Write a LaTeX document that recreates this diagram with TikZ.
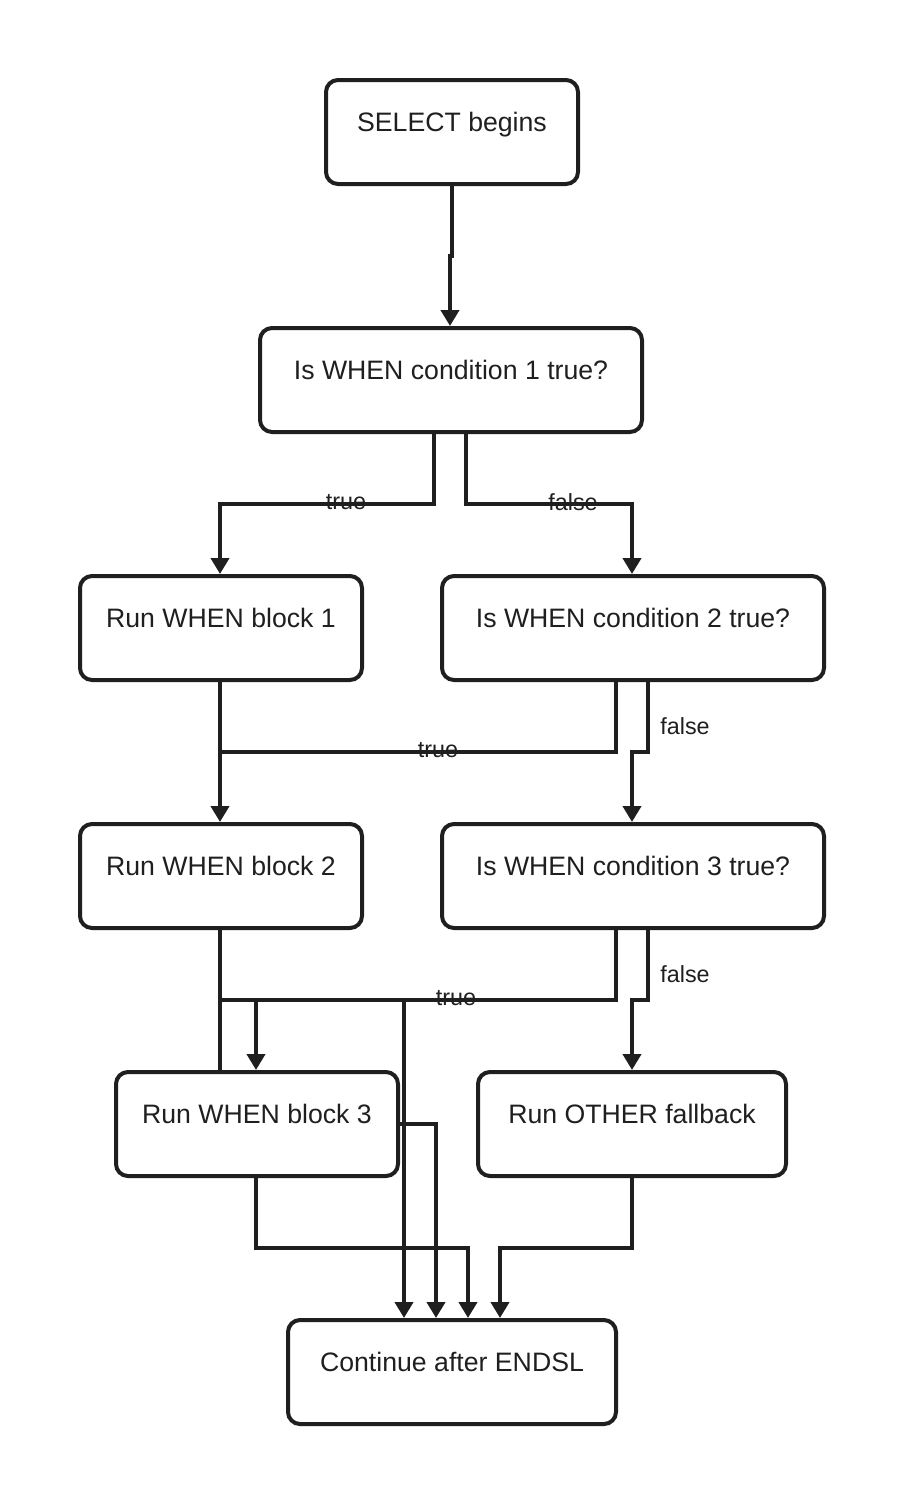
\documentclass[tikz,border=0pt]{standalone}
\usepackage{fontspec}
\setmainfont{Liberation Sans}
\usetikzlibrary{arrows.meta}
\begin{document}
\begin{tikzpicture}[x=0.75pt,y=-0.75pt,
  box/.style={draw=black!88,line width=3pt,rounded corners=9pt,inner sep=0pt,
    font=\fontsize{20}{24}\selectfont,text=black!88},
  ln/.style={draw=black!88,line width=3pt},
  ar/.style={ln,-{Triangle[width=13.5pt,length=12pt]}},
  lbl/.style={font=\fontsize{17.5}{20}\selectfont,text=black!88,inner sep=0pt}]
\useasboundingbox (0,0) rectangle (904,1504);
\newcommand\rt[1]{\raisebox{15pt}{#1}}
\node[box,minimum width=189pt,minimum height=78pt] (s) at (452,132) {\rt{SELECT begins}};
\node[box,minimum width=286.5pt,minimum height=78pt] (c1) at (451,380) {\rt{Is WHEN condition 1 true?}};
\node[box,minimum width=211.5pt,minimum height=78pt] (b1) at (221,628) {\rt{Run WHEN block 1}};
\node[box,minimum width=286.5pt,minimum height=78pt] (c2) at (633,628) {\rt{Is WHEN condition 2 true?}};
\node[box,minimum width=211.5pt,minimum height=78pt] (b2) at (221,876) {\rt{Run WHEN block 2}};
\node[box,minimum width=286.5pt,minimum height=78pt] (c3) at (633,876) {\rt{Is WHEN condition 3 true?}};
\node[box,minimum width=211.5pt,minimum height=78pt] (b3) at (257,1124) {\rt{Run WHEN block 3}};
\node[box,minimum width=231pt,minimum height=78pt] (o) at (632,1124) {\rt{Run OTHER fallback}};
\node[box,minimum width=246pt,minimum height=78pt] (e) at (452,1372) {\rt{Continue after ENDSL}};
% start -> c1
\draw[ar] (s.south) -- (452,256) -- (450,256) -- (c1.north -| 450,0);
% c1 true / false
\draw[ar] (c1.south -| 434,0) -- (434,504) -- (220,504) -- (b1.north -| 220,0);
\draw[ar] (c1.south -| 466,0) -- (466,504) -- (632,504) -- (c2.north -| 632,0);
\node[lbl] (t1) at (346,502) {true};
\node[lbl] (f1) at (573,502) {false};
% b1 -> b2, c2 true
\draw[ar] (b1.south -| 220,0) -- (b2.north -| 220,0);
\draw[ln] (c2.south -| 616,0) -- (616,752) -- (220,752);
\node[lbl] (t2) at (438,750) {true};
\draw[ar] (c2.south -| 648,0) -- (648,752) -- (632,752) -- (c3.north -| 632,0);
\node[lbl] (f2) at (685,726) {false};
% b2 / c3
\draw[ln] (b2.south -| 220,0) -- (b3.north -| 220,0);
\draw[ln] (c3.south -| 616,0) -- (616,1000) -- (220,1000);
\draw[ar] (256,1000) -- (b3.north -| 256,0);
\draw[ar] (404,1000) -- (e.north -| 404,0);
\node[lbl] (t3) at (456,998) {true};
\draw[ar] (c3.south -| 648,0) -- (648,1000) -- (632,1000) -- (o.north -| 632,0);
\node[lbl] (f3) at (685,974) {false};
% to end
\draw[ar] (b3.east) -- (436,1124) -- (e.north -| 436,0);
\draw[ar] (b3.south -| 256,0) -- (256,1248) -- (468,1248) -- (e.north -| 468,0);
\draw[ar] (o.south) -- (632,1248) -- (500,1248) -- (e.north -| 500,0);
\end{tikzpicture}
\end{document}
